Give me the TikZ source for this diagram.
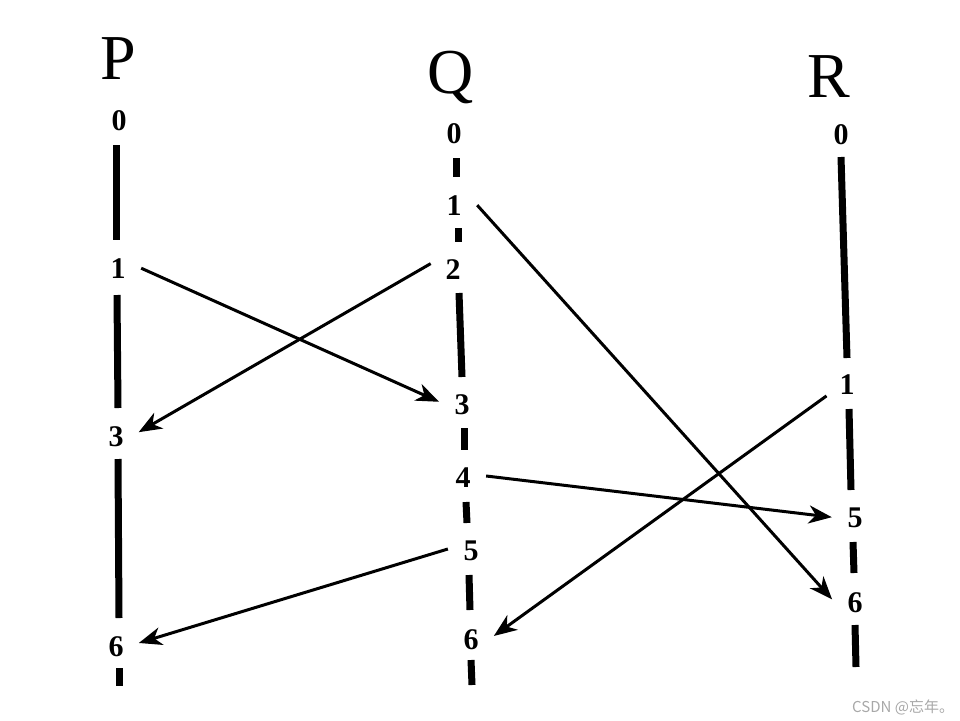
\documentclass[tikz,border=0pt]{standalone}
\usepackage{fontspec}
\setmainfont{Liberation Serif}
\newfontfamily\cjk{Noto Sans CJK SC}
\newfontfamily\digitfont{Liberation Serif Bold}
\usetikzlibrary{arrows.meta}
\definecolor{wmgray}{HTML}{A8A8A8}
\tikzset{
  lbl/.style={circle, minimum size=46pt, inner sep=0pt, font=\digitfont\fontsize{30}{30}\selectfont},
  ttl/.style={anchor=base, inner sep=0pt, font=\fontsize{64}{64}\selectfont},
  seg/.style={line width=7pt},
  arr/.style={line width=3pt, -{Stealth[length=23pt,width=18pt,inset=7pt]}}
}
\begin{document}
\begin{tikzpicture}[x=1pt,y=-1pt]
\useasboundingbox (0,0) rectangle (960,720);
% titles
\node[ttl] (tP) at (118,79) {P};
\node[ttl] (tQ) at (451,93) {Q};
\node[ttl] (tR) at (829,97) {R};
% labels
\node[lbl] (p0) at (119,121) {0};
\node[lbl] (p1) at (118,269) {1};
\node[lbl] (p3) at (116,437) {3};
\node[lbl] (p6) at (116,647) {6};
\node[lbl] (q0) at (454,134) {0};
\node[lbl] (q1) at (454,206) {1};
\node[lbl] (q2) at (453,270) {2};
\node[lbl] (q3) at (462,405) {3};
\node[lbl] (q4) at (463,478) {4};
\node[lbl] (q5) at (471,551) {5};
\node[lbl] (q6) at (471,640) {6};
\node[lbl] (r0) at (841,135) {0};
\node[lbl] (r1) at (847,385) {1};
\node[lbl] (r5) at (855,518) {5};
\node[lbl] (r6) at (855,603) {6};
% process lines
\draw[seg] (116,145) -- (116,240);
\draw[seg] (117,295) -- (118,408);
\draw[seg] (118,459) -- (119,618);
\draw[seg] (119,668) -- (119,686);
\draw[seg] (456,158) -- (456,177);
\draw[seg] (458,228) -- (458,242);
\draw[seg] (459,293) -- (462,377);
\draw[seg] (464,428) -- (464,450);
\draw[seg] (466,502) -- (467,523);
\draw[seg] (469,575) -- (470,610);
\draw[seg] (471,660) -- (472,685);
\draw[seg] (841,157) -- (847,358);
\draw[seg] (849,409) -- (851,490);
\draw[seg] (853,542) -- (854,573);
\draw[seg] (855,625) -- (856,667);
% messages
\draw[arr] (p1.2) -- (q3.172);
\draw[arr] (q2.164) -- (p3.12);
\draw[arr] (q1.2) -- (r6.171);
\draw[arr] (q4.5) -- (r5.178);
\draw[arr] (q5.175) -- (p6.10);
\draw[arr] (r1.208) -- (q6.10);
% watermark
\node[anchor=base west, inner sep=0pt, text=wmgray, font=\cjk\fontsize{15}{15}\selectfont] (wm) at (852,712) {CSDN @忘年。};
\end{tikzpicture}
\end{document}
